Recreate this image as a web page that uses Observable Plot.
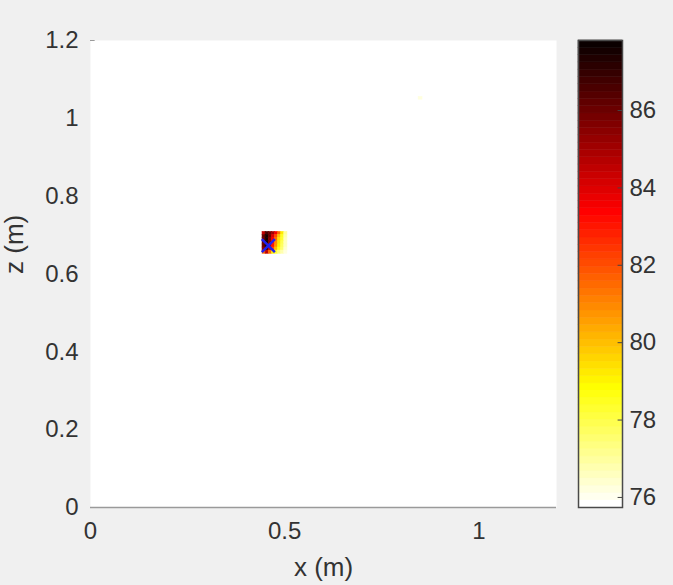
<!DOCTYPE html>
<html><head><meta charset="utf-8">
<script src="https://cdn.jsdelivr.net/npm/d3@7"></script>
<script src="https://cdn.jsdelivr.net/npm/@observablehq/plot@0.6"></script>
<style>
body{margin:0;background:#f0f0f0;}
#wrap{position:relative;width:673px;height:585px;background:#f0f0f0;}
#wrap svg{position:absolute;left:0;top:0;}
</style></head><body><div id="wrap"></div>
<script>
// heat-map cell grid around the detected source (metres)
const xEdges = [0.443, 0.451, 0.459, 0.467, 0.475, 0.483, 0.491, 0.499, 0.507];
const zEdges = [0.708, 0.700, 0.692, 0.684, 0.676, 0.668, 0.660, 0.652]; // top -> bottom
const values = [
  [84.5, 86.5, 86.0, 85.0, 83.5, 81.5, 79.2, 76.9],
  [86.0, 87.5, 86.0, 84.0, 82.0, 80.0, 78.5, 76.8],
  [86.0, 87.5, 85.5, 83.5, 81.5, 79.5, 78.2, 76.6],
  [86.0, 87.5, 85.5, 83.0, 81.0, 79.2, 78.0, 76.5],
  [86.0, 87.5, 85.0, 83.0, 80.8, 79.0, 77.8, 76.5],
  [85.5, 87.0, 84.5, 82.0, 80.0, 78.5, 77.5, 76.4],
  [81.5, 84.5, 81.5, 79.3, 78.3, 77.4, 76.7, 76.2]
];
// faint secondary spot
const spotX = [0.845, 0.855];
const spotZ = [1.048, 1.055];
const spotValue = [76.3];
// estimated source position (blue cross)
const markerX = [0.458];
const markerZ = [0.673];
const xTicks = [0, 0.5, 1];
const zTicks = [0, 0.2, 0.4, 0.6, 0.8, 1, 1.2];
const cbTicks = [76, 78, 80, 82, 84, 86];
const cDomain = [75.74, 87.81];

// MATLAB "hot" (64 levels), flipped so low values are white
function hotR(t) {
  t = Math.max(0, Math.min(1, t));
  const k = Math.min(63, Math.floor(t * 64));
  const i = 64 - k;
  const r = Math.min(1, i / 24);
  const g = Math.max(0, Math.min(1, (i - 24) / 24));
  const b = Math.max(0, Math.min(1, (i - 48) / 16));
  return d3.rgb(r * 255, g * 255, b * 255).formatHex();
}
const colorOpts = {type: "linear", domain: cDomain, interpolate: hotR, clamp: true};
const fmt = d => String(d);

const cells = [];
values.forEach((row, r) => row.forEach((v, c) => cells.push({x1: xEdges[c], x2: xEdges[c + 1], y1: zEdges[r + 1], y2: zEdges[r], v})));
cells.push({x1: spotX[0], x2: spotX[1], y1: spotZ[0], y2: spotZ[1], v: spotValue[0]});
const markers = markerX.map((x, i) => ({x, z: markerZ[i]}));

const font = '"Liberation Sans", Arial, Helvetica, sans-serif';
const textColor = "#333333";

const main = Plot.plot({
  width: 673, height: 585,
  marginLeft: 90, marginRight: 117, marginTop: 40, marginBottom: 78,
  style: {background: "transparent", fontFamily: font, fontSize: "24px", color: textColor},
  x: {domain: [0, 1.2], ticks: xTicks, tickFormat: fmt, tickSize: 0, tickPadding: 14, label: null},
  y: {domain: [0, 1.2], ticks: zTicks, tickFormat: fmt, tickSize: 0, tickPadding: 12, label: null},
  color: colorOpts,
  marks: [
    Plot.frame({fill: "white", stroke: null}),
    Plot.rect(cells, {x1: "x1", x2: "x2", y1: "y1", y2: "y2", fill: "v", stroke: "v", strokeWidth: 0.6}),
    Plot.dot(markers, {x: "x", y: "z", symbol: "times", r: 6, stroke: "#2020ee", strokeWidth: 2.5}),
    Plot.ruleY([0], {stroke: "#9a9a9a", strokeWidth: 1.5}),
    Plot.ruleY([1.2], {x1: () => 0, x2: () => 0.012, stroke: "#9a9a9a", strokeWidth: 1}),
    Plot.text(["x (m)"], {text: d => d, frameAnchor: "bottom", dy: 68, fontSize: 26, fill: textColor}),
    Plot.text(["z (m)"], {text: d => d, frameAnchor: "left", dx: -76, rotate: -90, fontSize: 26, fill: textColor})
  ]
});

const span = cDomain[1] - cDomain[0];
const levels = d3.range(64).map(k => ({y1: cDomain[0] + k * span / 64, y2: cDomain[0] + (k + 1) * span / 64}));
const cbar = Plot.plot({
  width: 673, height: 585,
  marginLeft: 578, marginRight: 51, marginTop: 40, marginBottom: 78,
  style: {background: "transparent", fontFamily: font, fontSize: "24px", color: textColor},
  x: {domain: [0, 1], axis: null},
  y: {domain: cDomain, ticks: cbTicks, tickFormat: fmt, axis: "right", tickSize: 0, tickPadding: 7, label: null},
  color: colorOpts,
  marks: [
    Plot.rect(levels, {x1: () => 0, x2: () => 1, y1: "y1", y2: "y2", fill: d => (d.y1 + d.y2) / 2, stroke: d => (d.y1 + d.y2) / 2, strokeWidth: 0.5}),
    Plot.ruleY(cbTicks, {x1: () => 0.9, x2: () => 1, stroke: "#444", strokeWidth: 1}),
    Plot.frame({stroke: "#4a4a4a", strokeWidth: 1.5})
  ]
});

const wrap = document.getElementById("wrap");
wrap.appendChild(main);
wrap.appendChild(cbar);
</script>
</body></html>
